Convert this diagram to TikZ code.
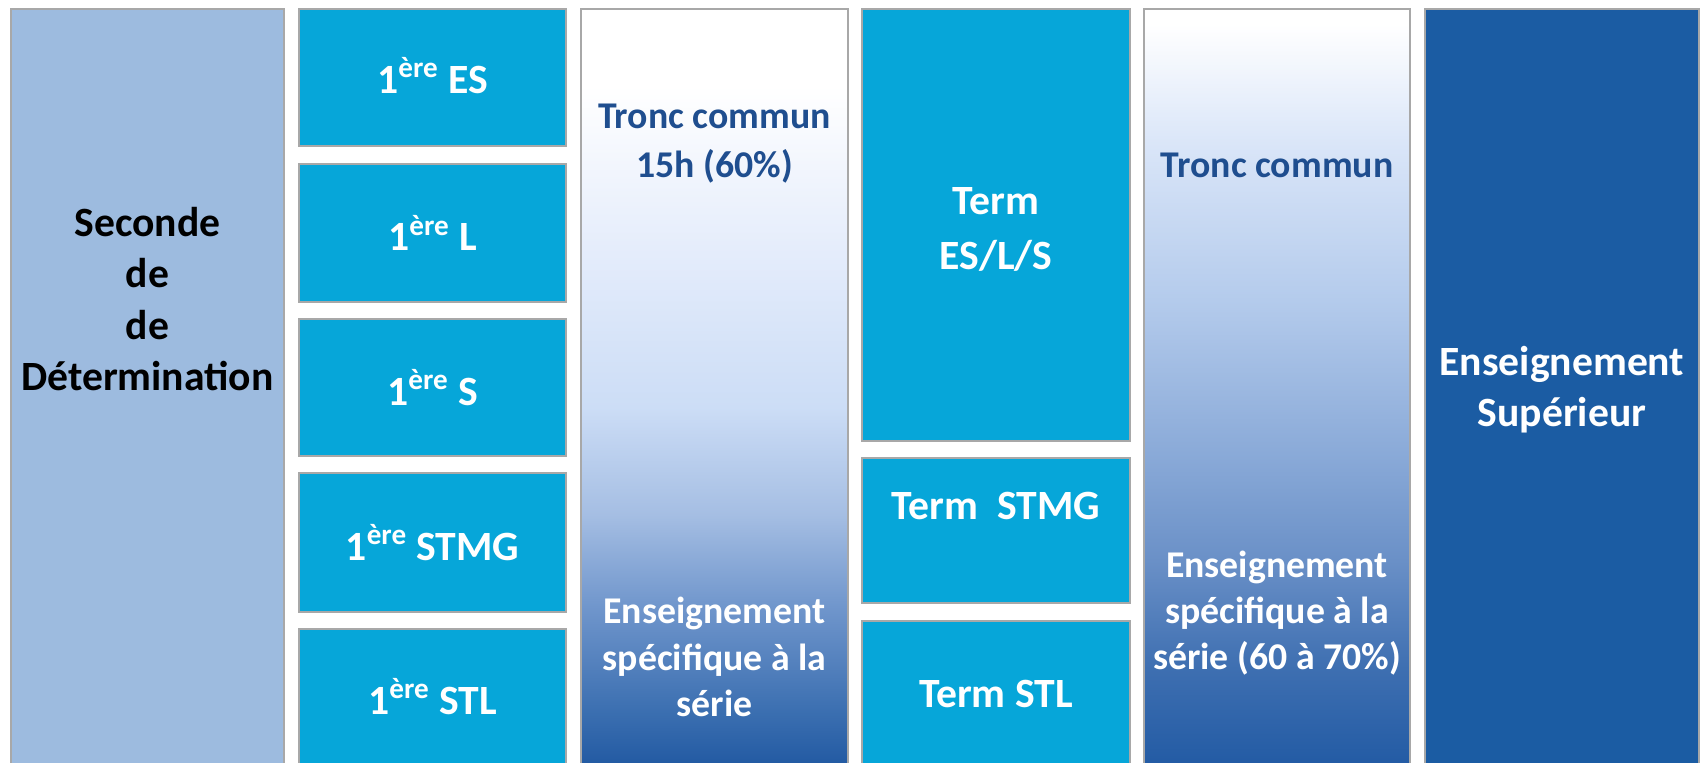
\documentclass[tikz,border=0pt]{standalone}
\usepackage{fontspec}
\setmainfont{Carlito}

\definecolor{secbleu}{HTML}{9DBBDF}
\definecolor{cyanbox}{HTML}{06A6D9}
\definecolor{supbleu}{HTML}{1B5CA3}
\definecolor{trait}{HTML}{A8A8A8}
\definecolor{tronc}{HTML}{1F4E8F}

% degrade des colonnes tronc commun / enseignement specifique
\pgfdeclareverticalshading{serieA}{100bp}{color(0bp)=(rgb,255:red,30;green,86;blue,160);
  color(25bp)=(rgb,255:red,30;green,86;blue,160);
  color(29bp)=(rgb,255:red,58;green,110;blue,176);
  color(36bp)=(rgb,255:red,112;green,150;blue,204);
  color(42bp)=(rgb,255:red,165;green,190;blue,227);
  color(49bp)=(rgb,255:red,204;green,221;blue,246);
  color(59bp)=(rgb,255:red,228;green,236;blue,251);
  color(70bp)=(rgb,255:red,255;green,255;blue,255);
  color(100bp)=(rgb,255:red,255;green,255;blue,255)}
\pgfdeclareverticalshading{serieB}{100bp}{color(0bp)=(rgb,255:red,32;green,89;blue,163);
  color(25bp)=(rgb,255:red,32;green,89;blue,163);
  color(32bp)=(rgb,255:red,62;green,111;blue,177);
  color(39bp)=(rgb,255:red,106;green,144;blue,199);
  color(46bp)=(rgb,255:red,138;green,170;blue,216);
  color(56bp)=(rgb,255:red,180;green,203;blue,236);
  color(66bp)=(rgb,255:red,217;green,229;blue,248);
  color(74bp)=(rgb,255:red,255;green,255;blue,255);
  color(100bp)=(rgb,255:red,255;green,255;blue,255)}

\newcommand{\ere}{\textsuperscript{ère}}

\begin{document}
\begin{tikzpicture}[x=0.02cm,y=-0.02cm]

\def\bas{775}

\tikzset{case/.style = {draw=trait, line width=1pt},
         label/.style = {font=\fontsize{23.7}{29.2}\selectfont\bfseries, align=center, inner sep=0pt},
         blanc/.style = {label, text=white},
         bleu/.style = {label, text=tronc},
         petit/.style = {font=\fontsize{21.5}{26.3}\selectfont\bfseries}}

\path[use as bounding box] (0,0) rectangle (1702,763);
\clip (0,0) rectangle (1702,763);

% colonne seconde
\draw[case, fill=secbleu] (11,9) rectangle (284,\bas);
\node[label] (sec) at (147.5,299) {Seconde\\de\\de\\Détermination};

% premieres
\draw[case, fill=cyanbox] (299,9) rectangle (566,146);
\draw[case, fill=cyanbox] (299,164) rectangle (566,302);
\draw[case, fill=cyanbox] (299,319) rectangle (566,456);
\draw[case, fill=cyanbox] (299,473) rectangle (566,612);
\draw[case, fill=cyanbox] (299,629) rectangle (566,\bas);
\node[blanc] (pes) at (432.5,76) {1\ere{} ES};
\node[blanc] (pl) at (432.5,233) {1\ere{} L};
\node[blanc] (ps) at (432.5,387.5) {1\ere{} S};
\node[blanc] (pstmg) at (432.5,542.5) {1\ere{} STMG};
\node[blanc] (pstl) at (432.5,697) {1\ere{} STL};

% tronc commun premiere
\draw[case, shading=serieA] (581,9) rectangle (848,\bas);
\node[bleu, petit, font=\fontsize{21.5}{27.8}\selectfont\bfseries] (tc1) at (714.5,143.5) {Tronc commun\\15h (60\%)};
\node[blanc, petit] (es1) at (714.5,657) {Enseignement\\spécifique à la\\série};

% terminales
\draw[case, fill=cyanbox] (862,9) rectangle (1130,441);
\draw[case, fill=cyanbox] (862,458) rectangle (1130,603);
\draw[case, fill=cyanbox] (862,621) rectangle (1130,\bas);
\node[blanc, font=\fontsize{23.7}{31}\selectfont\bfseries] (tgen) at (996,229.5) {Term\\ES/L/S};
\node[blanc] (tstmg) at (996,506) {Term\ \ STMG};
\node[blanc] (tstl) at (996,694) {Term STL};

% tronc commun terminale
\draw[case, shading=serieB] (1144,9) rectangle (1410,\bas);
\node[bleu, petit] (tc2) at (1277,165) {Tronc commun};
\node[blanc, petit] (es2) at (1277,613) {Enseignement\\spécifique à la\\série (60 à 70\%)};

% superieur
\draw[case, fill=supbleu] (1425,9) rectangle (1699,\bas);
\node[blanc] (sup) at (1562,389.5) {Enseignement\\Supérieur};

\end{tikzpicture}
\end{document}
